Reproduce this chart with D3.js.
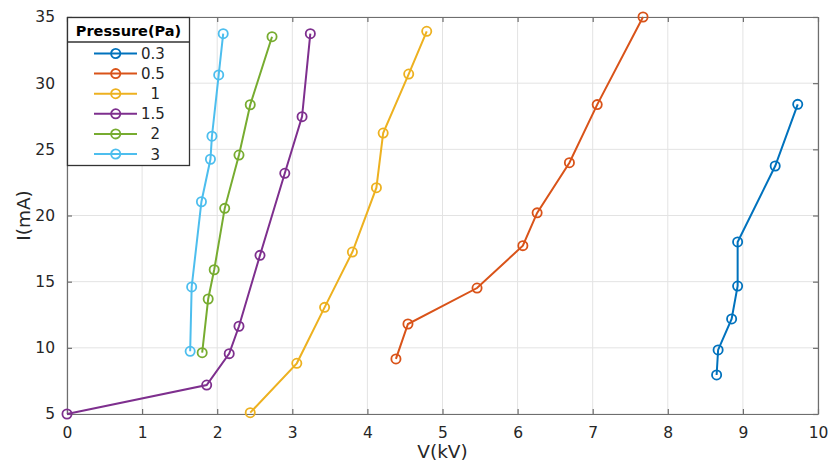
<!DOCTYPE html>
<html>
<head>
<meta charset="utf-8">
<script src="https://cdn.jsdelivr.net/npm/d3@7"></script>
<style>
  html, body { margin: 0; padding: 0; background: #fff; }
  svg { display: block; font-family: "DejaVu Sans", sans-serif; }
</style>
</head>
<body>
<svg id="chart" width="832" height="466"></svg>
<script>
// Discharge current versus voltage at several gas pressures
const pressures = ["0.3", "0.5", "1", "1.5", "2", "3"];
const legendLabels = ["0.3", "0.5", "\u00a0\u00a01", "1.5", "\u00a0\u00a02", "\u00a0\u00a03"];
const colors = ["#0072BD", "#D95319", "#EDB120", "#7E2F8E", "#77AC30", "#4DBEEE"];

const voltage03 = [8.65, 8.67, 8.85, 8.93, 8.93, 9.43, 9.73];
const current03 = [7.95, 9.84, 12.18, 14.67, 18.0, 23.74, 28.4];

const voltage05 = [4.38, 4.54, 5.46, 6.07, 6.26, 6.69, 7.06, 7.67];
const current05 = [9.16, 11.8, 14.52, 17.72, 20.2, 23.99, 28.38, 35.0];

const voltage1 = [2.44, 3.06, 3.43, 3.80, 4.12, 4.21, 4.55, 4.79];
const current1 = [5.1, 8.83, 13.06, 17.24, 22.1, 26.23, 30.69, 33.92];

const voltage15 = [0.0, 1.86, 2.16, 2.29, 2.57, 2.90, 3.13, 3.24];
const current15 = [5.0, 7.19, 9.56, 11.63, 16.99, 23.19, 27.47, 33.74];

const voltage2 = [1.80, 1.88, 1.96, 2.10, 2.29, 2.44, 2.73];
const current2 = [9.63, 13.69, 15.9, 20.54, 24.57, 28.37, 33.51];

const voltage3 = [1.64, 1.66, 1.79, 1.91, 1.93, 2.02, 2.08];
const current3 = [9.74, 14.6, 21.04, 24.25, 25.99, 30.62, 33.74];

const xTicks = [0, 1, 2, 3, 4, 5, 6, 7, 8, 9, 10];
const yTicks = [5, 10, 15, 20, 25, 30, 35];

const seriesV = [voltage03, voltage05, voltage1, voltage15, voltage2, voltage3];
const seriesI = [current03, current05, current1, current15, current2, current3];
const series = pressures.map((p, k) => ({
  name: p,
  label: legendLabels[k],
  color: colors[k],
  points: seriesV[k].map((v, j) => ({ v, i: seriesI[k][j] }))
}));

const svg = d3.select("#chart");
const L = 67, R = 818, T = 17, B = 414;

const x = d3.scaleLinear().domain([0, 10]).range([L, R]);
const y = d3.scaleLinear().domain([5, 35]).range([B, T]);

const axisColor = "#6e6e6e";
const textColor = "#262626";

// grid
const grid = svg.append("g");
grid.selectAll("line.gx").data(xTicks).join("line")
  .attr("x1", d => x(d)).attr("x2", d => x(d))
  .attr("y1", T).attr("y2", B)
  .attr("stroke", "#e3e3e3").attr("stroke-width", 1);
grid.selectAll("line.gy").data(yTicks).join("line")
  .attr("y1", d => y(d)).attr("y2", d => y(d))
  .attr("x1", L).attr("x2", R)
  .attr("stroke", "#e3e3e3").attr("stroke-width", 1);

// axes with inward ticks on all four sides
function styleAxis(g, showLabels) {
  g.select(".domain").attr("stroke", axisColor).attr("stroke-width", 1.2);
  g.selectAll(".tick line").attr("stroke", axisColor).attr("stroke-width", 1.2);
  g.selectAll(".tick text").attr("fill", textColor)
    .attr("font-size", 15.5).attr("font-family", "DejaVu Sans, sans-serif");
  if (!showLabels) g.selectAll(".tick text").remove();
}

svg.append("g").attr("transform", `translate(0,${B})`)
  .call(d3.axisBottom(x).tickValues(xTicks).tickSize(-5).tickPadding(13).tickSizeOuter(0).tickFormat(d3.format("d")))
  .call(g => styleAxis(g, true));
svg.append("g").attr("transform", `translate(0,${T})`)
  .call(d3.axisTop(x).tickValues(xTicks).tickSize(-5).tickSizeOuter(0))
  .call(g => styleAxis(g, false));
svg.append("g").attr("transform", `translate(${L},0)`)
  .call(d3.axisLeft(y).tickValues(yTicks).tickSize(-5).tickPadding(12).tickSizeOuter(0).tickFormat(d3.format("d")))
  .call(g => styleAxis(g, true));
svg.append("g").attr("transform", `translate(${R},0)`)
  .call(d3.axisRight(y).tickValues(yTicks).tickSize(-5).tickSizeOuter(0))
  .call(g => styleAxis(g, false));

// axis titles
svg.append("text").attr("x", (L + R) / 2).attr("y", 458)
  .attr("text-anchor", "middle").attr("font-size", 18.5).attr("fill", textColor)
  .text("V(kV)");
svg.append("text").attr("transform", `translate(30,${(T + B) / 2}) rotate(-90)`)
  .attr("text-anchor", "middle").attr("font-size", 18.5).attr("fill", textColor)
  .text("I(mA)");

// series
const line = d3.line().x(d => x(d.v)).y(d => y(d.i));
const sg = svg.append("g").selectAll("g").data(series).join("g");
sg.append("path")
  .attr("d", d => line(d.points))
  .attr("fill", "none").attr("stroke", d => d.color).attr("stroke-width", 2);
sg.each(function (s) {
  d3.select(this).selectAll("circle").data(s.points).join("circle")
    .attr("cx", d => x(d.v)).attr("cy", d => y(d.i)).attr("r", 4.6)
    .attr("fill", "none").attr("stroke", s.color).attr("stroke-width", 1.8);
});

// legend
const lg = svg.append("g");
const lgX = 67.5, lgY = 17.5, lgW = 122, lgH = 148;
lg.append("rect").attr("x", lgX).attr("y", lgY).attr("width", lgW).attr("height", lgH)
  .attr("fill", "#fff").attr("stroke", "#333").attr("stroke-width", 1.3);
lg.append("line").attr("x1", lgX).attr("x2", lgX + lgW).attr("y1", 42).attr("y2", 42)
  .attr("stroke", "#333").attr("stroke-width", 1.3);
lg.append("text").attr("x", lgX + lgW / 2).attr("y", 36)
  .attr("text-anchor", "middle").attr("font-size", 14.5).attr("font-weight", "bold")
  .attr("fill", "#000").text("Pressure(Pa)");
const rowY = d3.scalePoint().domain(pressures).range([53.5, 154]);
const items = lg.selectAll("g.item").data(series).join("g")
  .attr("transform", d => `translate(0,${rowY(d.name)})`);
items.append("line").attr("x1", 94).attr("x2", 137).attr("y1", 0).attr("y2", 0)
  .attr("stroke", d => d.color).attr("stroke-width", 2);
items.append("circle").attr("cx", 115.7).attr("cy", 0).attr("r", 4.6)
  .attr("fill", "none").attr("stroke", d => d.color).attr("stroke-width", 1.8);
items.append("text").attr("x", 141).attr("y", 5.5)
  .attr("font-size", 15).attr("fill", textColor)
  .style("white-space", "pre")
  .text(d => d.label);
</script>
</body>
</html>
